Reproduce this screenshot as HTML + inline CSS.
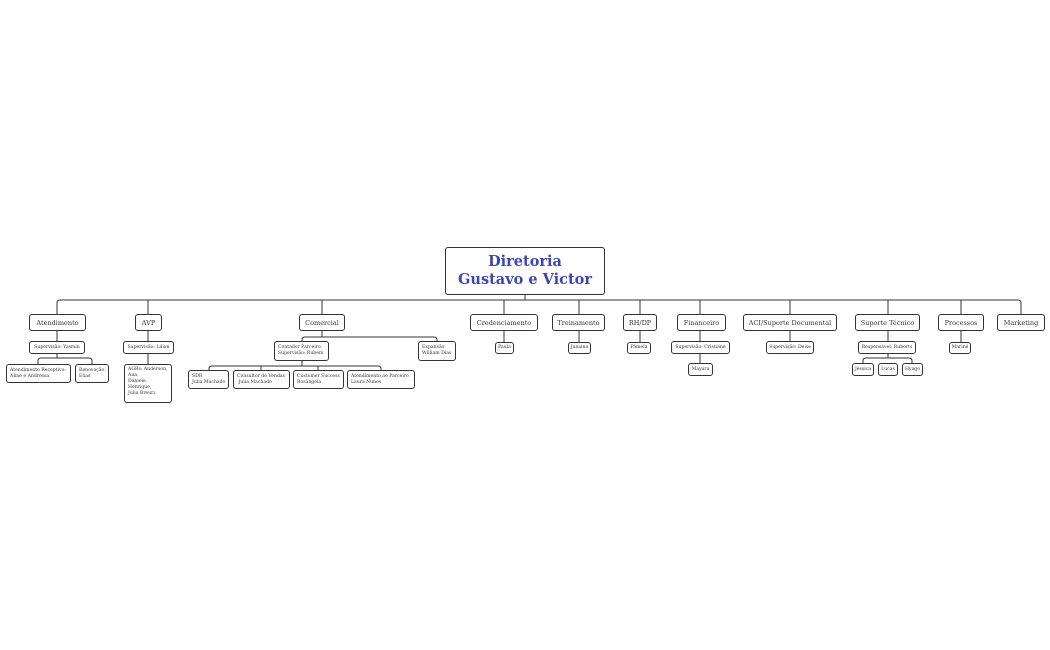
<!DOCTYPE html>
<html><head><meta charset="utf-8"><style>
body{margin:0;width:1050px;height:650px;background:#fff;position:relative;overflow:hidden;font-family:"DejaVu Serif","Liberation Serif",serif;color:#333}
.b{position:absolute;border:1px solid #333;border-radius:3px;background:#fff;box-sizing:border-box;display:flex;align-items:center;justify-content:center;font-size:6.5px;white-space:nowrap}
.s{font-size:4.6px;line-height:1.3}
.l{justify-content:flex-start;padding-left:3px}
svg{position:absolute;left:0;top:0}
</style></head><body>
<svg width="1050" height="650" fill="none" stroke="#333" stroke-width="1">
<path d="M525 295V300M57 314V303Q57 300 60 300H1018Q1021 300 1021 303V314"/>
<path d="M148 300V314M322 300V314M504 300V314M579 300V314M640 300V314M700 300V314M790 300V314M888 300V314M961 300V314"/>
<path d="M57 331V341M148 331V341M504 331V342M579 331V342M640 331V342M700 331V341M790 331V341M888 331V341M961 331V342"/>
<path d="M322 331V337M302 341V340Q302 337 305 337H434Q437 337 437 340V341"/>
<path d="M57 354V358M38 364V361Q38 358 41 358H89Q92 358 92 361V364"/>
<path d="M148 354V364"/>
<path d="M302 361V366M209 370V369Q209 366 212 366H378Q381 366 381 369V370M261 366V370M318 366V370"/>
<path d="M700 354V363"/>
<path d="M888 354V358M863 363V361Q863 358 866 358H909Q912 358 912 361V363"/>
</svg>
<div class="b" style="left:445px;top:247px;width:160px;height:48px;text-align:center;color:#3a48b3;font-weight:bold;font-size:14.5px;line-height:18px">Diretoria<br>Gustavo e Victor</div>
<div class="b" style="left:29px;top:314px;width:57px;height:17px">Atendimento</div>
<div class="b" style="left:135px;top:314px;width:27px;height:17px">AVP</div>
<div class="b" style="left:299px;top:314px;width:46px;height:17px">Comercial</div>
<div class="b" style="left:470px;top:314px;width:68px;height:17px">Credenciamento</div>
<div class="b" style="left:552px;top:314px;width:53px;height:17px">Treinamento</div>
<div class="b" style="left:623px;top:314px;width:34px;height:17px">RH/DP</div>
<div class="b" style="left:677px;top:314px;width:49px;height:17px">Financeiro</div>
<div class="b" style="left:743px;top:314px;width:94px;height:17px">ACI/Suporte Documental</div>
<div class="b" style="left:855px;top:314px;width:65px;height:17px">Suporte Técnico</div>
<div class="b" style="left:938px;top:314px;width:46px;height:17px">Processos</div>
<div class="b" style="left:997px;top:314px;width:48px;height:17px">Marketing</div>

<div class="b s" style="left:29px;top:341px;width:56px;height:13px">Supervisão: Yasmin</div>
<div class="b s" style="left:123px;top:341px;width:51px;height:13px">Supervisão: Lilian</div>
<div class="b s l" style="left:274px;top:341px;width:55px;height:20px">Contador Parceiro<br>Supervisão: Rubem</div>
<div class="b s l" style="left:418px;top:341px;width:38px;height:20px">Expansão<br>William Dias</div>
<div class="b s" style="left:495px;top:342px;width:19px;height:12px">Paula</div>
<div class="b s" style="left:568px;top:342px;width:23px;height:12px">Janaina</div>
<div class="b s" style="left:627px;top:342px;width:24px;height:12px">Pâmela</div>
<div class="b s" style="left:671px;top:341px;width:59px;height:13px">Supervisão: Cristiane</div>
<div class="b s" style="left:766px;top:341px;width:48px;height:13px">Supervisão: Deise</div>
<div class="b s" style="left:858px;top:341px;width:58px;height:13px">Responsável: Ruberts</div>
<div class="b s" style="left:949px;top:342px;width:22px;height:12px">Mariné</div>

<div class="b s l" style="left:6px;top:364px;width:65px;height:19px">Atendimento Receptivo:<br>Aline e Andressa</div>
<div class="b s l" style="left:75px;top:364px;width:34px;height:19px">Renovação:<br>Elias</div>
<div class="b s l" style="left:124px;top:364px;width:48px;height:39px;align-items:flex-start;padding-top:2px">AGRs: Anderson,<br>Ana,<br>Daniele,<br>Henrique,<br>Julia Breuri.</div>
<div class="b s l" style="left:188px;top:370px;width:41px;height:19px">SDR<br>Julia Machado</div>
<div class="b s l" style="left:233px;top:370px;width:57px;height:19px">Consultor de Vendas<br>&nbsp;Julia Machado</div>
<div class="b s l" style="left:293px;top:370px;width:51px;height:19px">Customer Success<br>Rosângela</div>
<div class="b s l" style="left:347px;top:370px;width:68px;height:19px">Atendimento ao Parceiro<br>Laura Nunes</div>
<div class="b s" style="left:688px;top:363px;width:25px;height:13px">Mayara</div>
<div class="b s" style="left:852px;top:363px;width:22px;height:13px">Jéssica</div>
<div class="b s" style="left:878px;top:363px;width:20px;height:13px">Lucas</div>
<div class="b s" style="left:902px;top:363px;width:21px;height:13px">Hyago</div>
</body></html>
